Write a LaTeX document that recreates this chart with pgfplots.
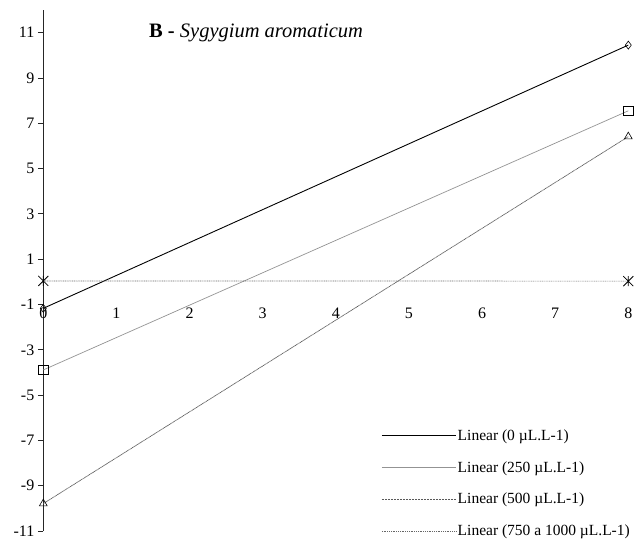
\documentclass[border=0pt]{standalone}
\usepackage{pgfplots}
\pgfplotsset{compat=1.18}
\usepackage{fontspec}
\setmainfont{Liberation Serif}
\pgfdeclareplotmark{xstar}{%
  \pgfpathmoveto{\pgfqpoint{-\pgfplotmarksize}{-\pgfplotmarksize}}%
  \pgfpathlineto{\pgfqpoint{\pgfplotmarksize}{\pgfplotmarksize}}%
  \pgfpathmoveto{\pgfqpoint{-\pgfplotmarksize}{\pgfplotmarksize}}%
  \pgfpathlineto{\pgfqpoint{\pgfplotmarksize}{-\pgfplotmarksize}}%
  \pgfpathmoveto{\pgfqpoint{0pt}{-\pgfplotmarksize}}%
  \pgfpathlineto{\pgfqpoint{0pt}{\pgfplotmarksize}}%
  \pgfusepathqstroke}
\begin{document}
\begin{tikzpicture}
\begin{axis}[
  scale only axis, width=585pt, height=521pt,
  xmin=0, xmax=8, ymin=-11, ymax=12,
  clip=false,
  axis x line*=bottom, axis y line*=left,
  x axis line style={draw=none},
  y axis line style={black!85, line width=0.8pt},
  xtick={0,1,2,3,4,5,6,7,8}, xticklabels={0,1,2,3,4,5,6,7,8},
  xtick style={draw=none},
  xticklabel style={anchor=center, yshift=223.5pt, font=\fontsize{16}{19}\selectfont},
  ytick={-11,-9,-7,-5,-3,-1,1,3,5,7,9,11},
  yticklabels={-11,-9,-7,-5,-3,-1,1,3,5,7,9,11},
  yticklabel style={font=\fontsize{16}{19}\selectfont},
  tick align=outside, major tick length=5.5pt,
  ytick style={black!85, line width=0.8pt},
  legend cell align=left,
  legend image code/.code={\draw[#1] (0pt,0pt) -- (74pt,0pt);},
  legend style={draw=none, fill=none, at={(axis cs:4.62,-6.45)}, anchor=north west,
    font=\fontsize{15.5}{18}\selectfont, row sep=16.5pt, inner sep=0pt,
    nodes={inner sep=1.5pt}},
]
\addplot[black, line width=0.9pt, mark=diamond, mark size=4pt, mark options={solid, black, line width=0.6pt}]
  coordinates {(0,-1.17) (8,10.45)};
\addlegendentry{Linear (0 µL.L-1)}
\addplot[gray!85, line width=0.7pt, mark=square, mark size=4.8pt, mark options={solid, black, line width=0.6pt}]
  coordinates {(0,-3.89) (8,7.55)};
\addlegendentry{Linear (250 µL.L-1)}
\addplot[black!65, line width=0.7pt, dash pattern=on 1pt off 0.5pt, mark=triangle, mark size=4.5pt, mark options={solid, black, line width=0.6pt}]
  coordinates {(0,-9.79) (8,6.41)};
\addlegendentry{Linear (500 µL.L-1)}
\addplot[black!60, line width=0.7pt, dash pattern=on 1pt off 0.8pt, mark=xstar, mark size=5pt, mark options={solid, black, line width=0.8pt}]
  coordinates {(0,0.04) (8,0.03)};
\addlegendentry{Linear (750 a 1000 µL.L-1)}
\node[font=\fontsize{20.5}{24}\selectfont] at (axis cs:2.91,10.98) {\textbf{B -} \textit{Sygygium aromaticum}};
\coordinate (bl) at (rel axis cs:0,0);
\end{axis}
\pgfresetboundingbox
\path (bl) ++(-43.3pt,-11pt) rectangle ++(637pt,542pt);
\end{tikzpicture}
\end{document}
